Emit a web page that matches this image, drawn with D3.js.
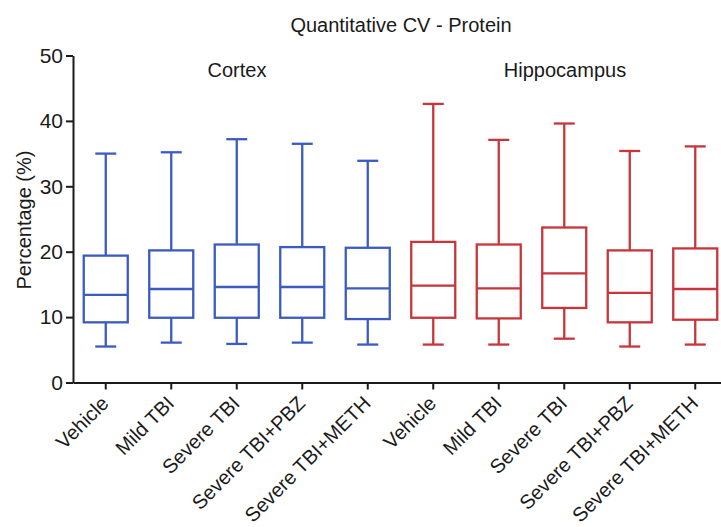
<!DOCTYPE html>
<html>
<head>
<meta charset="utf-8">
<script src="https://cdn.jsdelivr.net/npm/d3@7"></script>
<style>
  html, body { margin: 0; padding: 0; background: #fff; }
  svg { display: block; font-family: "Liberation Sans", Arial, Helvetica, sans-serif; }
</style>
</head>
<body>
<svg id="chart" width="721" height="527"></svg>
<script>
// Group labels along the x axis (five treatments per tissue)
const categories = ["Vehicle", "Mild TBI", "Severe TBI", "Severe TBI+PBZ", "Severe TBI+METH",
                    "Vehicle", "Mild TBI", "Severe TBI", "Severe TBI+PBZ", "Severe TBI+METH"];
const tissue = ["Cortex", "Cortex", "Cortex", "Cortex", "Cortex",
                "Hippocampus", "Hippocampus", "Hippocampus", "Hippocampus", "Hippocampus"];

// Box-and-whisker summaries (min to max whiskers)
const mins    = [5.5, 6.1, 5.9, 6.1, 5.8, 5.8, 5.8, 6.7, 5.5, 5.8];
const q1s     = [9.2, 9.9, 9.9, 9.9, 9.7, 9.9, 9.8, 11.4, 9.2, 9.6];
const medians = [13.4, 14.3, 14.6, 14.6, 14.4, 14.8, 14.4, 16.7, 13.7, 14.3];
const q3s     = [19.4, 20.2, 21.1, 20.7, 20.6, 21.5, 21.1, 23.7, 20.2, 20.5];
const maxs    = [35.0, 35.2, 37.2, 36.5, 33.9, 42.6, 37.1, 39.6, 35.4, 36.1];

const yTicks = [0, 10, 20, 30, 40, 50];
const tissueColors = { "Cortex": "#3b5bc2", "Hippocampus": "#c8353b" };
const ink = "#1a1a1a";

const svg = d3.select("#chart");

const x = d3.scaleBand()
  .domain(d3.range(categories.length))
  .range([73, 728])
  .padding(0);

const y = d3.scaleLinear().domain([0, 50]).range([382.5, 55.5]);

const boxW = 44;
const capW = 21;

// Axes
const yAxis = svg.append("g")
  .attr("transform", "translate(73,0)")
  .call(d3.axisLeft(y).tickValues(yTicks).tickSize(7).tickSizeOuter(0).tickPadding(3));
yAxis.select(".domain").attr("stroke", ink).attr("stroke-width", 2);
yAxis.selectAll(".tick line").attr("stroke", ink).attr("stroke-width", 2);
yAxis.selectAll(".tick text")
  .style("font-size", "21px").attr("fill", ink)
  .style("font-family", "Liberation Sans, Arial, sans-serif");

const xAxis = svg.append("g")
  .attr("transform", "translate(0,382.5)")
  .call(d3.axisBottom(x).tickSize(7).tickSizeOuter(0).tickFormat(i => categories[i]).tickPadding(6));
xAxis.select(".domain").attr("stroke", ink).attr("stroke-width", 2);
xAxis.selectAll(".tick line").attr("stroke", ink).attr("stroke-width", 2);
xAxis.selectAll(".tick text")
  .style("font-size", "20px").attr("fill", ink)
  .style("font-family", "Liberation Sans, Arial, sans-serif")
  .attr("text-anchor", "end")
  .attr("dy", "0.35em")
  .attr("transform", "translate(-10,8) rotate(-45)");

// Boxes
const boxes = svg.append("g").selectAll("g.box")
  .data(d3.range(categories.length))
  .join("g")
  .attr("class", "box")
  .attr("stroke", i => tissueColors[tissue[i]])
  .attr("stroke-width", 2.3)
  .attr("fill", "none");

const cx = i => x(i) + x.bandwidth() / 2;

boxes.append("line")
  .attr("x1", cx).attr("x2", cx)
  .attr("y1", i => y(maxs[i])).attr("y2", i => y(q3s[i]));
boxes.append("line")
  .attr("x1", cx).attr("x2", cx)
  .attr("y1", i => y(q1s[i])).attr("y2", i => y(mins[i]));
boxes.append("line")
  .attr("x1", i => cx(i) - capW / 2).attr("x2", i => cx(i) + capW / 2)
  .attr("y1", i => y(maxs[i])).attr("y2", i => y(maxs[i]));
boxes.append("line")
  .attr("x1", i => cx(i) - capW / 2).attr("x2", i => cx(i) + capW / 2)
  .attr("y1", i => y(mins[i])).attr("y2", i => y(mins[i]));
boxes.append("rect")
  .attr("x", i => cx(i) - boxW / 2)
  .attr("width", boxW)
  .attr("y", i => y(q3s[i]))
  .attr("height", i => y(q1s[i]) - y(q3s[i]));
boxes.append("line")
  .attr("x1", i => cx(i) - boxW / 2).attr("x2", i => cx(i) + boxW / 2)
  .attr("y1", i => y(medians[i])).attr("y2", i => y(medians[i]));

// Titles
svg.append("text")
  .attr("x", 401).attr("y", 32)
  .attr("text-anchor", "middle")
  .attr("font-size", 20).attr("fill", ink)
  .text("Quantitative CV - Protein");

svg.append("text")
  .attr("x", 237).attr("y", 77)
  .attr("text-anchor", "middle")
  .attr("font-size", 20).attr("fill", ink)
  .text("Cortex");

svg.append("text")
  .attr("x", 565).attr("y", 77)
  .attr("text-anchor", "middle")
  .attr("font-size", 20).attr("fill", ink)
  .text("Hippocampus");

svg.append("text")
  .attr("transform", "translate(31,220) rotate(-90)")
  .attr("text-anchor", "middle")
  .attr("font-size", 20).attr("fill", ink)
  .text("Percentage (%)");
</script>
</body>
</html>
